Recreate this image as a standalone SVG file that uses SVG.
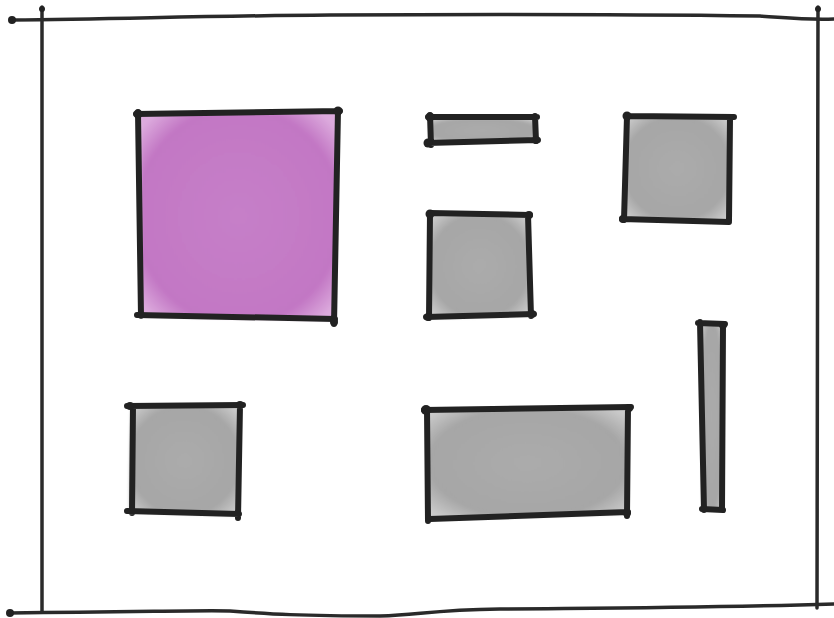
<svg xmlns="http://www.w3.org/2000/svg" width="834" height="618" viewBox="0 0 834 618">
<defs>
<filter id="wc" x="-10%" y="-10%" width="120%" height="120%"><feGaussianBlur stdDeviation="1.5"/></filter>
<radialGradient id="gg" cx="50%" cy="50%" r="65%"><stop offset="0" stop-color="#ababab"/><stop offset="0.75" stop-color="#a6a6a6"/><stop offset="1" stop-color="#cbcbcb"/></radialGradient>
<radialGradient id="pg" cx="50%" cy="50%" r="65%"><stop offset="0" stop-color="#c67fc8"/><stop offset="0.8" stop-color="#c277c4"/><stop offset="1" stop-color="#dcaadd"/></radialGradient>
</defs>
<style>
.ink{fill:none;stroke:#222;stroke-width:6;stroke-linecap:round;stroke-linejoin:round}
.thin{fill:none;stroke:#2a2a2a;stroke-width:3.5;stroke-linecap:round}
.dot{fill:#222}
.g{fill:url(#gg);filter:url(#wc)}
.p{fill:url(#pg);filter:url(#wc)}
</style>
<rect width="834" height="618" fill="#fff"/>
<g id="frame">
<path class="thin" d="M12,20 C120,19 200,16 330,15 C500,14 600,14 760,16 C790,18 805,20 834,19"/>
<path class="thin" d="M42,7 L42,612"/>
<path class="thin" d="M818,7 C817,200 819,400 817,608"/>
<path class="thin" d="M10,613 C150,612 200,610 230,611 C270,614 300,616 380,616 C420,615 430,610 500,609 C600,608 700,608 834,604"/>
<circle class="dot" cx="12" cy="20" r="4"/>
<circle class="dot" cx="10" cy="613" r="4"/>
<circle class="dot" cx="42" cy="9" r="3"/>
<circle class="dot" cx="818" cy="9" r="3"/>
</g>
<g id="purple">
<path class="p" d="M140,114 L337,112 L335,320 L141,316 Z"/>
<path class="ink" d="M136,114 L340,111 M338,110 L334,324 M138,112 L141,316 M137,315 L335,319"/>
<circle class="dot" cx="138" cy="114" r="4.5"/><circle class="dot" cx="338" cy="111" r="4.5"/><circle class="dot" cx="334" cy="322" r="4"/>
</g>
<g id="bar-top">
<path class="g" d="M429,118 L536,118 L536,141 L430,143 Z"/>
<path class="ink" d="M428,117 L537,117 M430,115 L431,145 M535,116 L536,141 M427,143 L538,140"/>
<circle class="dot" cx="430" cy="117" r="4.5"/><circle class="dot" cx="428" cy="143" r="4.5"/><circle class="dot" cx="536" cy="140" r="4"/>
</g>
<g id="sq-tr">
<path class="g" d="M627,116 L731,117 L728,221 L623,219 Z"/>
<path class="ink" d="M627,116 L734,117 M627,116 L624,220 M730,118 L729,221 M622,219 L729,222"/>
<circle class="dot" cx="627" cy="116" r="4.5"/><circle class="dot" cx="623" cy="219" r="4"/>
</g>
<g id="sq-mid">
<path class="g" d="M430,214 L529,215 L530,316 L429,318 Z"/>
<path class="ink" d="M430,213 L530,215 M430,213 L429,318 M528,215 L531,316 M426,317 L534,314"/>
<circle class="dot" cx="430" cy="214" r="4.5"/><circle class="dot" cx="529" cy="215" r="4"/><circle class="dot" cx="532" cy="314" r="4"/><circle class="dot" cx="428" cy="317" r="4"/>
</g>
<g id="sq-bl">
<path class="g" d="M131,406 L240,405 L238,516 L129,512 Z"/>
<path class="ink" d="M127,406 L243,405 M133,406 L132,513 M240,405 L238,518 M127,511 L239,514"/>
<circle class="dot" cx="130" cy="406" r="4"/><circle class="dot" cx="240" cy="405" r="4"/>
</g>
<g id="rect-bm">
<path class="g" d="M427,410 L628,407 L627,514 L429,519 Z"/>
<path class="ink" d="M424,410 L631,407 M427,409 L428,521 M628,407 L627,516 M430,519 L628,512"/>
<circle class="dot" cx="426" cy="410" r="5"/><circle class="dot" cx="629" cy="408" r="4"/><circle class="dot" cx="627" cy="513" r="4"/>
</g>
<g id="bar-v">
<path class="g" d="M700,323 L724,325 L722,509 L703,509 Z"/>
<path class="ink" d="M698,323 L725,324 M700,322 L704,510 M723,324 L722,510 M702,509 L723,510"/>
<circle class="dot" cx="723" cy="325" r="4"/>
</g>
</svg>
